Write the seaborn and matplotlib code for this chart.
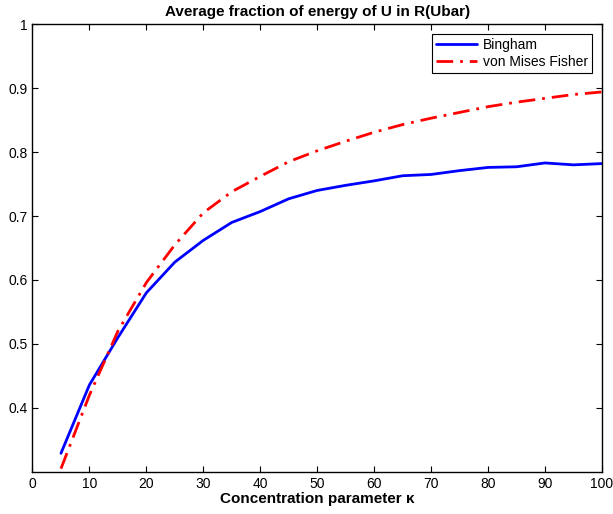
import numpy as np
import pandas as pd
import matplotlib
matplotlib.use('Agg')
import matplotlib.pyplot as plt
import seaborn as sns

# Values
kappa = [5, 10, 15, 20, 25, 30, 35, 40, 45, 50, 55, 60, 65, 70, 75, 80, 85, 90, 95, 100]
bingham = [0.329, 0.436, 0.510, 0.580, 0.628, 0.662, 0.690, 0.707, 0.727, 0.740, 0.748, 0.755,
           0.763, 0.765, 0.771, 0.776, 0.777, 0.783, 0.780, 0.782]
vmf = [0.305, 0.420, 0.520, 0.596, 0.655, 0.705, 0.738, 0.762, 0.785, 0.802, 0.817, 0.831,
       0.843, 0.853, 0.862, 0.871, 0.878, 0.884, 0.890, 0.894]

df = pd.DataFrame({'kappa': kappa, 'Bingham': bingham, 'von Mises Fisher': vmf})

sns.set_style('ticks', {'axes.edgecolor': 'black', 'text.color': 'black',
                        'xtick.color': 'black', 'ytick.color': 'black'})
plt.rcParams['font.family'] = ['Liberation Sans', 'DejaVu Sans']

fig = plt.figure(figsize=(6.13, 5.14), dpi=100)
ax = fig.add_axes([0.053, 0.082, 0.929, 0.871])

sns.lineplot(data=df, x='kappa', y='Bingham', color='#0000ff', linewidth=2,
             label='Bingham', ax=ax)
sns.lineplot(data=df, x='kappa', y='von Mises Fisher', color='#ff0000', linewidth=2,
             linestyle=(0, (6, 2.5, 1, 2.5)), label='von Mises Fisher', ax=ax)

ax.set_xlim(0, 100)
ax.set_ylim(0.3, 1)
ax.set_xticks(np.arange(0, 101, 10))
ax.set_yticks([0.4, 0.5, 0.6, 0.7, 0.8, 0.9, 1])
ax.set_yticklabels(['0.4', '0.5', '0.6', '0.7', '0.8', '0.9', '1'])
ax.tick_params(direction='in', top=True, right=True, labelsize=10, length=4, width=0.8,
               colors='black')
for s in ax.spines.values():
    s.set_linewidth(1.0)
    s.set_color('black')
    s.set_visible(True)

ax.set_title('Average fraction of energy of U in R(Ubar)', fontsize=11, fontweight='bold',
             pad=6, color='black')
ax.set_xlabel('Concentration parameter κ', fontsize=11, fontweight='bold', labelpad=1,
              color='black')
ax.set_ylabel('')

leg = ax.legend(loc='upper right', fontsize=10, fancybox=False, framealpha=1,
                edgecolor='black', borderpad=0.3, handlelength=3.0, handletextpad=0.4,
                labelspacing=0.2, borderaxespad=0.7)
leg.get_frame().set_linewidth(0.8)

fig.savefig('out.png', dpi=100)
